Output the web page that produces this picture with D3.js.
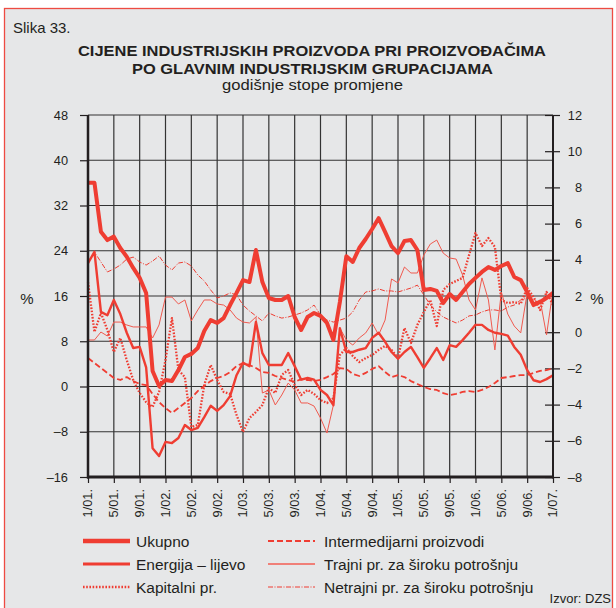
<!DOCTYPE html>
<html>
<head>
<meta charset="utf-8">
<script src="https://cdn.jsdelivr.net/npm/d3@7"></script>
<style>
  body { margin: 0; background: #fff; }
  svg { display: block; font-family: "Liberation Sans", Arial, sans-serif; }
</style>
</head>
<body>
<svg id="graph" width="616" height="608"></svg>
<script>
// mjeseci 1/01. - 1/07. (indeks 0..72)
var tickMonths = d3.range(0, 73, 4);
var tickLabels = ["1/01.","5/01.","9/01.","1/02.","5/02.","9/02.","1/03.","5/03.","9/03.",
  "1/04.","5/04.","9/04.","1/05.","5/05.","9/05.","1/06.","5/06.","9/06.","1/07."];
var leftTicks = [-16, -8, 0, 8, 16, 24, 32, 40, 48];
var rightTicks = [-8, -6, -4, -2, 0, 2, 4, 6, 8, 10, 12];

// Ukupno (desna os)
var ukupno = [8.26,8.26,5.55,5.09,5.28,4.65,4.17,3.55,3.0,2.17,-2.14,-2.97,-2.64,-2.7,-2.09,-1.37,-1.2,-0.87,0.07,0.67,
  0.51,0.78,1.5,2.17,2.88,2.77,4.54,2.77,1.89,1.78,1.78,2.0,0.84,0.12,0.84,1.06,0.9,0.51,-0.43,1.67,
  4.2,3.88,4.65,5.15,5.7,6.3,5.54,4.76,4.37,5.04,5.09,4.54,2.33,2.39,2.28,1.61,2.11,1.78,2.22,2.66,
  3.0,3.33,3.6,3.44,3.66,3.82,3.05,2.88,2.22,1.5,1.67,1.89,2.17];
// Energija (lijeva os)
var energija = [21.8,23.8,13.2,12.6,15.3,12.8,9.5,6.8,7.0,3.4,-10.9,-12.3,-9.8,-10.0,-9.1,-6.8,-7.7,-7.3,-5.4,-3.4,
  -4.3,-3.3,-1.7,2.0,4.2,3.6,11.4,5.9,3.8,3.8,3.8,5.9,3.6,1.2,1.5,1.2,-0.6,-1.5,-3.3,10.3,
  6.1,6.1,6.5,6.8,8.6,9.5,7.9,6.1,4.9,6.1,7.0,5.2,3.3,5.0,6.8,4.7,7.3,7.0,8.2,9.5,
  10.9,10.9,10.0,9.5,9.3,9.0,7.0,5.6,2.9,1.1,0.8,1.3,2.0];
// Kapitalni proizvodi (desna os)
var kapitalni = [2.77,0.01,1.06,0.12,-1.09,-0.32,-1.54,-2.64,-3.36,-3.86,-4.13,-3.3,-1.54,0.78,-2.09,-2.48,-5.24,-5.13,-2.92,-1.81,
  -2.64,-3.3,-3.41,-4.57,-5.51,-4.74,-4.41,-4.02,-3.08,-3.36,-2.36,-2.09,-2.92,-3.47,-3.19,-3.41,-3.75,-3.91,-3.64,-1.26,
  -0.87,-1.32,-1.65,-1.43,-1.26,-0.98,-0.76,-0.98,-1.43,0.23,-0.6,0.4,1.12,1.78,0.34,2.33,2.66,2.83,3.0,4.26,
  5.48,4.76,5.2,4.71,1.78,1.61,1.67,1.56,2.44,1.94,1.23,2.22,1.5];
// Intermedijarni proizvodi (desna os)
var intermed = [-1.43,-1.7,-1.98,-2.25,-2.53,-2.64,-2.48,-2.7,-2.86,-2.92,-3.41,-3.86,-4.19,-4.46,-4.19,-3.91,-3.64,-3.25,-2.97,-2.7,
  -2.53,-2.42,-2.2,-1.87,-1.7,-1.81,-1.98,-2.2,-2.25,-2.42,-2.53,-2.64,-2.75,-2.59,-2.64,-2.7,-2.64,-2.48,-2.31,-1.98,
  -2.03,-2.31,-2.42,-2.25,-2.03,-1.87,-2.2,-2.48,-2.37,-2.48,-2.7,-2.86,-3.03,-3.14,-3.19,-3.36,-3.47,-3.41,-3.3,-3.25,
  -3.3,-3.19,-3.03,-2.81,-2.53,-2.48,-2.42,-2.37,-2.37,-2.25,-2.14,-2.09,-1.98];
// Trajni pr. za široku potrošnju (desna os)
var trajni = [-0.43,-0.43,0.01,-0.21,0.56,0.56,0.4,0.29,0.29,0.29,-0.32,0.4,1.94,1.94,1.56,1.78,0.62,1.23,1.78,1.78,
  1.56,1.5,1.23,0.78,0.56,0.51,0.84,-3.36,-3.19,-4.02,-3.47,-2.81,-3.19,-3.91,-3.91,-4.08,-4.74,-5.57,-4.02,0.23,
  -0.43,-0.71,-0.32,-0.04,0.51,-0.15,0.67,2.94,2.72,3.6,3.27,3.27,4.26,4.87,5.09,4.37,4.1,4.04,3.16,1.78,
  1.23,3.0,1.78,-0.98,2.22,1.0,0.34,-0.04,2.17,1.61,1.78,-0.15,2.33];
// Netrajni pr. za široku potrošnju (desna os)
var netrajni = [3.82,4.43,3.88,3.33,3.49,3.71,4.04,4.15,3.88,3.71,3.93,4.21,3.71,3.44,3.82,3.88,3.66,3.16,2.83,2.33,
  1.89,2.0,2.17,2.06,1.5,1.17,0.9,0.62,1.06,0.9,0.78,0.84,0.95,1.06,1.23,1.5,0.95,0.67,0.56,0.67,
  0.78,1.12,1.78,2.22,2.28,2.39,2.28,2.28,2.22,2.33,2.44,2.6,2.06,1.5,1.12,0.84,0.67,0.51,0.67,0.9,
  0.95,1.12,1.23,1.23,1.17,1.39,1.5,1.78,1.89,1.78,1.61,1.89,2.06];

var red = "#ef3d32";
var ink = "#231f20";
var svg = d3.select("#graph");

// okvir
svg.append("rect").attr("x", 4.5).attr("y", 8.5).attr("width", 608).attr("height", 606)
  .attr("fill", "#e6e7e8").attr("stroke", "#ee4b42").attr("stroke-width", 1.3);

// naslovi
svg.append("text").attr("x", 13).attr("y", 33).attr("font-size", 15).attr("fill", ink).text("Slika 33.");
svg.append("text").attr("x", 312).attr("y", 55.5).attr("font-size", 15.5).attr("font-weight", "bold")
  .attr("text-anchor", "middle").attr("fill", ink)
  .attr("textLength", 468).attr("lengthAdjust", "spacingAndGlyphs")
  .text("CIJENE INDUSTRIJSKIH PROIZVODA PRI PROIZVOĐAČIMA");
svg.append("text").attr("x", 312.5).attr("y", 73.5).attr("font-size", 15.5).attr("font-weight", "bold")
  .attr("text-anchor", "middle").attr("fill", ink)
  .attr("textLength", 361).attr("lengthAdjust", "spacingAndGlyphs")
  .text("PO GLAVNIM INDUSTRIJSKIM GRUPACIJAMA");
svg.append("text").attr("x", 312.5).attr("y", 90).attr("font-size", 15.5)
  .attr("text-anchor", "middle").attr("fill", ink)
  .attr("textLength", 181).attr("lengthAdjust", "spacingAndGlyphs")
  .text("godišnje stope promjene");

// skale
var x = d3.scaleLinear().domain([0, 72]).range([88, 553]);
var yL = d3.scaleLinear().domain([-16, 48]).range([477, 115]);
var yR = d3.scaleLinear().domain([-8, 12]).range([477, 115]);
var fmt = function(d) { return d < 0 ? "\u2013" + Math.abs(d) : String(d); };

// mreža
svg.append("g").selectAll("line").data(leftTicks).join("line")
  .attr("x1", 88).attr("x2", 553).attr("y1", d => yL(d)).attr("y2", d => yL(d))
  .attr("stroke", "#333").attr("stroke-width", 1.2);
svg.append("g").selectAll("line").data(tickMonths).join("line")
  .attr("x1", d => x(d)).attr("x2", d => x(d)).attr("y1", 115).attr("y2", 477)
  .attr("stroke", "#333").attr("stroke-width", 1.2);

// lijeva os
var gL = svg.append("g").attr("transform", "translate(88,0)")
  .call(d3.axisLeft(yL).tickValues(leftTicks).tickSize(8).tickPadding(12).tickFormat(fmt));
// desna os
var gR = svg.append("g").attr("transform", "translate(553,0)")
  .call(d3.axisRight(yR).tickValues(rightTicks).tickSize(7).tickPadding(22).tickFormat(fmt));
gR.selectAll(".tick line").attr("x1", -8);
gR.selectAll(".tick text").attr("text-anchor", "end").attr("x", 29);
// donja os
var gB = svg.append("g").attr("transform", "translate(0,477)")
  .call(d3.axisBottom(x).tickValues(tickMonths).tickSize(6).tickFormat(""));

[gL, gR, gB].forEach(function(g) {
  g.select(".domain").remove();
  g.selectAll(".tick line").attr("stroke", ink).attr("stroke-width", 1.2);
  g.selectAll(".tick text").attr("font-size", 12.8).attr("fill", ink)
    .attr("font-family", "Liberation Sans, Arial, sans-serif");
});

// oznake na x osi (rotirane)
svg.append("g").selectAll("text").data(tickMonths).join("text")
  .attr("transform", d => "translate(" + x(d) + ",489) rotate(-90)")
  .attr("dy", "0.35em").attr("text-anchor", "end").attr("font-size", 12.8).attr("fill", ink)
  .text((d, i) => tickLabels[i]);

svg.append("text").attr("x", 27).attr("y", 304).attr("font-size", 15).attr("text-anchor", "middle")
  .attr("fill", ink).text("%");
svg.append("text").attr("x", 597).attr("y", 304).attr("font-size", 15).attr("text-anchor", "middle")
  .attr("fill", ink).text("%");

// serije
var series = [
  { name: "Intermedijarni proizvodi", data: intermed, y: yR, w: 1.8, dash: "6,3", color: red },
  { name: "Trajni pr. za široku potrošnju", data: trajni, y: yR, w: 1, dash: null, color: "#f05a4f" },
  { name: "Netrajni pr. za široku potrošnju", data: netrajni, y: yR, w: 1, dash: "5,1.5,1,1.5", color: red },
  { name: "Kapitalni pr.", data: kapitalni, y: yR, w: 2.3, dash: "1.6,1.6", color: red },
  { name: "Energija – lijevo", data: energija, y: yL, w: 2.4, dash: null, color: red },
  { name: "Ukupno", data: ukupno, y: yR, w: 4, dash: null, color: red }
];
series.forEach(function(s) {
  var line = d3.line().x((d, i) => x(i)).y(d => s.y(d));
  svg.append("path").attr("d", line(s.data)).attr("fill", "none")
    .attr("stroke", s.color).attr("stroke-width", s.w)
    .attr("stroke-dasharray", s.dash).attr("stroke-linejoin", "round");
});

// osi (debele linije)
svg.append("line").attr("x1", 88).attr("x2", 88).attr("y1", 115).attr("y2", 478.5)
  .attr("stroke", ink).attr("stroke-width", 2.5);
svg.append("line").attr("x1", 553).attr("x2", 553).attr("y1", 115).attr("y2", 478.5)
  .attr("stroke", ink).attr("stroke-width", 2);
svg.append("line").attr("x1", 87).attr("x2", 554).attr("y1", 477).attr("y2", 477)
  .attr("stroke", ink).attr("stroke-width", 3);

// legenda
var legend = [
  { name: "Ukupno", col: 0, row: 0, w: 4.5, dash: null, color: red },
  { name: "Energija – lijevo", col: 0, row: 1, w: 3, dash: null, color: red },
  { name: "Kapitalni pr.", col: 0, row: 2, w: 2.3, dash: "1.6,1.6", color: red },
  { name: "Intermedijarni proizvodi", col: 1, row: 0, w: 1.8, dash: "6,3", color: red },
  { name: "Trajni pr. za široku potrošnju", col: 1, row: 1, w: 2.2, dash: null, color: "#f08078" },
  { name: "Netrajni pr. za široku potrošnju", col: 1, row: 2, w: 1.2, dash: "5,1.5,1,1.5", color: red }
];
var lg = svg.append("g").selectAll("g").data(legend).join("g")
  .attr("transform", d => "translate(" + (d.col ? 268 : 83) + "," + (541 + d.row * 23) + ")");
lg.append("line").attr("x1", 0).attr("x2", 47).attr("y1", 0).attr("y2", 0)
  .attr("stroke", d => d.color).attr("stroke-width", d => d.w).attr("stroke-dasharray", d => d.dash);
lg.append("text").attr("x", d => d.col ? 56 : 53).attr("y", 6).attr("font-size", 15.5)
  .attr("fill", ink).text(d => d.name);

svg.append("text").attr("x", 611).attr("y", 603).attr("font-size", 13).attr("text-anchor", "end")
  .attr("fill", ink).text("Izvor: DZS");
</script>
</body>
</html>
